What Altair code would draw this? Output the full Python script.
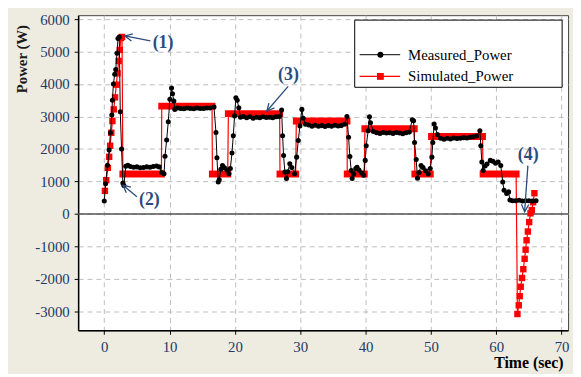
import math
import altair as alt
import pandas as pd

# ---------------- data ----------------
meas_t = [0.0, 0.2, 0.5, 0.75, 0.95, 1.15, 1.25, 1.4, 1.6, 1.76, 1.95, 2.1, 2.3, 2.45, 2.65, 2.85,
          3.0, 3.3, 3.6, 4.0, 4.5, 5.0, 5.5, 6.0, 6.5, 7.0, 7.5, 8.0, 8.4, 8.8, 9.15, 9.3, 9.55,
          9.8, 10.05, 10.3, 10.45, 10.65, 10.8, 11.2, 11.7, 12.2, 12.7, 13.2, 13.7, 14.2, 14.7,
          15.2, 15.7, 16.2, 16.8, 17.1, 17.25, 17.45, 17.6, 17.85, 18.1, 18.4, 18.8, 19.1, 19.3,
          19.55, 19.75, 19.95, 20.15, 20.35, 20.6, 20.85, 21.3, 21.8, 22.3, 22.8, 23.3, 23.8,
          24.3, 24.8, 25.3, 25.8, 26.3, 26.8, 27.15, 27.3, 27.45, 27.65, 27.9, 28.1, 28.4, 28.7,
          29.15, 29.45, 29.7, 29.95, 30.25, 30.45, 30.8, 31.3, 31.8, 32.3, 32.8, 33.3, 33.8,
          34.3, 34.8, 35.3, 35.8, 36.3, 36.8, 37.15, 37.4, 37.6, 37.8, 37.95, 38.2, 38.5, 38.7,
          39.0, 39.4, 39.7, 39.95, 40.1, 40.4, 40.6, 40.75, 41.2, 41.7, 42.2, 42.7, 43.2, 43.7,
          44.2, 44.7, 45.2, 45.7, 46.2, 46.7, 47.15, 47.35, 47.5, 47.75, 47.95, 48.2, 48.5,
          48.8, 49.2, 49.6, 49.9, 50.15, 50.3, 50.5, 50.7, 51.0, 51.5, 52.0, 52.5, 53.0, 53.5,
          54.0, 54.5, 55.0, 55.5, 56.0, 56.5, 57.0, 57.5, 57.65, 57.8, 58.0, 58.3, 58.6, 59.1,
          59.5, 59.9, 60.3, 60.7, 61.0, 61.2, 61.6, 61.9, 62.1, 62.5, 63.0, 63.5, 64.0, 64.5,
          65.0, 65.5, 66.1]
meas_v = [400, 930, 1500, 1970, 2500, 3050, 3500, 4000, 4300, 4450, 4950, 5400, 5450, 3150, 2000, 950,
          880, 1470, 1500, 1460, 1440, 1450, 1420, 1430, 1450, 1440, 1460, 1480, 1450, 1280, 1240, 1780, 2280,
          2840, 3530, 3880, 3700, 3480, 3220, 3260, 3250, 3240, 3260, 3250, 3240, 3260, 3250,
          3250, 3260, 3260, 3290, 2510, 1730, 985, 1050, 1380, 1490, 1420, 1350, 1240, 1400,
          1880, 2410, 3020, 3580, 3500, 3270, 2980, 3000, 2960, 2990, 2950, 2980, 2960,
          2990, 2970, 2980, 2960, 2990, 3000, 3200, 2410, 1800, 1290, 1090, 1300, 1545, 1430,
          1240, 1750, 2260, 2710, 3220, 2950, 2760, 2740, 2700, 2730, 2700, 2720, 2690,
          2720, 2700, 2730, 2710, 2720, 2760, 3000, 2360, 1770, 1340, 1090, 1230, 1400, 1440,
          1350, 1260, 1190, 1650, 2100, 2560, 2990, 2810, 2540, 2500, 2480, 2510, 2490, 2500,
          2480, 2510, 2490, 2470, 2500, 2520, 2900, 2870, 2200, 1680, 1100, 1280, 1490,
          1430, 1330, 1230, 1400, 1750, 2200, 2770, 2650, 2450, 2330, 2300, 2330, 2310, 2340,
          2320, 2330, 2350, 2340, 2360, 2380, 2400, 2560, 2100, 1600, 1340, 1480, 1540, 1650,
          1620, 1560, 1600, 1490, 985, 730, 630, 680, 430, 410, 410, 420, 400, 410,
          410, 400, 405]

sim_ramp_t = [0.1, 0.3, 0.55, 0.75, 0.9, 1.08, 1.25, 1.45, 1.65, 1.85, 2.02, 2.2, 2.38, 2.55, 2.72]
sim_ramp_v = [710, 1040, 1420, 1760, 2100, 2500, 2860, 3220, 3590, 3980, 4330, 4710, 5050, 5420, 5450]

seg_start = [2.85, 8.8, 16.55, 19.0, 26.9, 29.4, 37.2, 39.9, 47.55, 50.1, 58.0]
seg_end = [8.75, 16.5, 18.9, 26.85, 29.3, 37.15, 39.8, 47.45, 49.9, 57.9, 63.05]
seg_val = [1230, 3320, 1230, 3090, 1230, 2860, 1230, 2625, 1230, 2385, 1230]

sim_drop_t = [63.25, 63.45, 63.6, 63.75, 63.95, 64.15, 64.35, 64.5, 64.65, 64.85, 65.05, 65.25, 65.45, 65.65, 65.85]
sim_drop_v = [-3080, -2810, -2530, -2240, -1970, -1700, -1380, -1100, -810, -540, -250, 20, 120, 360, 640]

ann_labels = ["(1)", "(2)", "(3)", "(4)"]
ann_text_t = [9.0, 6.9, 28.2, 64.9]
ann_text_v = [5270, 430, 4270, 1800]
ann_from_t = [7.05, 5.0, 28.15, 64.85]
ann_from_v = [5330, 530, 3930, 1490]
ann_to_t = [3.17, 2.87, 24.9, 64.35]
ann_to_v = [5480, 885, 3170, 70]

x_ticks = [0, 10, 20, 30, 40, 50, 60, 70]
y_ticks = [-3000, -2000, -1000, 0, 1000, 2000, 3000, 4000, 5000, 6000]

# ---------------- layout / style ----------------
W, H = 496, 319
XDOM = [-4, 71]
YDOM = [-3580, 6120]
FONT = "Liberation Serif"
RED = "#FF0000"
ANN = "#2B4C7E"
LABEL = "#1F3A66"

xs = alt.Scale(domain=XDOM, nice=False, zero=False)
ys = alt.Scale(domain=YDOM, nice=False, zero=False)

meas = pd.DataFrame({"t": meas_t, "v": meas_v, "i": range(len(meas_t))})

line_t, line_v = list(sim_ramp_t), list(sim_ramp_v)
for a, b, v in zip(seg_start, seg_end, seg_val):
    line_t += [a, b]
    line_v += [v, v]
line_t += sim_drop_t
line_v += sim_drop_v
sim_line = pd.DataFrame({"t": line_t, "v": line_v, "i": range(len(line_t))})
sim_pts = pd.DataFrame({"t": sim_ramp_t + sim_drop_t, "v": sim_ramp_v + sim_drop_v})
segs = pd.DataFrame({"a": seg_start, "b": seg_end, "v": seg_val})

# arrow-head angles in screen space
sx = W / (XDOM[1] - XDOM[0])
sy = H / (YDOM[1] - YDOM[0])
angles = []
for ft, fv, tt, tv in zip(ann_from_t, ann_from_v, ann_to_t, ann_to_v):
    dx = (tt - ft) * sx
    dy = -(tv - fv) * sy
    angles.append(math.degrees(math.atan2(dx, -dy)) % 360)
ann = pd.DataFrame({"label": ann_labels, "tx": ann_text_t, "tv": ann_text_v,
                    "ft": ann_from_t, "fv": ann_from_v, "et": ann_to_t, "ev": ann_to_v,
                    "ang": angles})

x_axis = alt.Axis(values=x_ticks, labelExpr="'' + datum.value", labelOverlap=False,
                  titleX=491, titleY=33,
                  titleAlign="right", titleBaseline="middle", titleAngle=0,
                  labelPadding=5)
y_axis = alt.Axis(values=y_ticks, labelExpr="'' + datum.value", labelOverlap=False,
                  labelBound=False, titleX=-57, titleY=44,
                  titleAngle=270, titleAlign="center", titleBaseline="middle",
                  labelPadding=5)


def px(f):
    return alt.X(f, scale=xs, title="Time (sec)", axis=x_axis)


def py(f):
    return alt.Y(f, scale=ys, title="Power (W)", axis=y_axis)


base_axes = alt.Chart(meas).mark_point(opacity=0).encode(x=px("t:Q"), y=py("v:Q"))

zero = alt.Chart(pd.DataFrame({"v": [0]})).mark_rule(color="#555555", strokeWidth=1.5).encode(
    y=py("v:Q"))

red_line = alt.Chart(sim_line).mark_line(color=RED, strokeWidth=1.2).encode(
    x=px("t:Q"), y=py("v:Q"), order="i:Q")
red_segs = alt.Chart(segs).mark_rule(color=RED, strokeWidth=7, strokeCap="square").encode(
    x=px("a:Q"), x2="b:Q", y=py("v:Q"))
red_pts = alt.Chart(sim_pts).mark_point(shape="square", filled=True, color=RED, size=42, opacity=1).encode(
    x=px("t:Q"), y=py("v:Q"))

blk_line = alt.Chart(meas).mark_line(color="black", strokeWidth=1).encode(
    x=px("t:Q"), y=py("v:Q"), order="i:Q")
blk_pts = alt.Chart(meas).mark_circle(color="black", size=26, opacity=1).encode(
    x=px("t:Q"), y=py("v:Q"))

arrows = alt.Chart(ann).mark_rule(color=ANN, strokeWidth=1.3).encode(
    x=px("ft:Q"), y=py("fv:Q"), x2="et:Q", y2="ev:Q")
heads = alt.Chart(ann).mark_point(
    shape="M -0.55 1.1 L 0 0 L 0.55 1.1", filled=False, color=ANN, strokeWidth=1.3,
    size=180, opacity=1).encode(
    x=px("et:Q"), y=py("ev:Q"), angle=alt.Angle("ang:Q", scale=None))
ann_txt = alt.Chart(ann).mark_text(font=FONT, fontSize=18, fontWeight="bold", color=ANN,
                                   align="center", baseline="middle").encode(
    x=px("tx:Q"), y=py("tv:Q"), text="label:N")

# legend box (decoration)
one = pd.DataFrame({"k": [0]})
leg_box = alt.Chart(one).mark_rect(fill="white", stroke="black", strokeWidth=1).encode(
    x=alt.value(280), x2=alt.value(490), y=alt.value(5), y2=alt.value(73))
leg_l1 = alt.Chart(one).mark_rule(color="black", strokeWidth=1).encode(
    x=alt.value(285), x2=alt.value(326), y=alt.value(40))
leg_l2 = alt.Chart(one).mark_rule(color=RED, strokeWidth=1.2).encode(
    x=alt.value(285), x2=alt.value(326), y=alt.value(62))
leg_p1 = alt.Chart(one).mark_circle(color="black", size=36, opacity=1).encode(
    x=alt.value(306), y=alt.value(40))
leg_p2 = alt.Chart(one).mark_point(shape="square", filled=True, color=RED, size=48, opacity=1).encode(
    x=alt.value(306), y=alt.value(62))
leg_t1 = alt.Chart(one).mark_text(font=FONT, fontSize=15, color="black", align="left",
                                  baseline="middle", text="Measured_Power").encode(
    x=alt.value(334), y=alt.value(40))
leg_t2 = alt.Chart(one).mark_text(font=FONT, fontSize=15, color="black", align="left",
                                  baseline="middle", text="Simulated_Power").encode(
    x=alt.value(334), y=alt.value(62))

chart = alt.layer(
    base_axes, zero, red_line, red_segs, red_pts, blk_line, blk_pts,
    arrows, heads, ann_txt,
    leg_box, leg_l1, leg_l2, leg_p1, leg_p2, leg_t1, leg_t2,
).properties(
    width=W, height=H,
    autosize=alt.AutoSizeParams(type="none"),
    padding={"left": 71, "top": 5, "right": 5, "bottom": 42},
    background="#EEEBE1",
).configure_view(
    fill="white", stroke="#444444", strokeWidth=1,
).configure_axis(
    grid=True, gridColor="#BDBDBD", gridDash=[5, 4], gridWidth=1,
    domainColor="black", domainWidth=1.5,
    tickColor="black", tickSize=4, tickWidth=1,
    labelFont=FONT, labelFontSize=15, labelColor=LABEL, labelOverlap=False,
    titleFont=FONT, titleFontSize=15, titleFontWeight="bold", titleColor="#1a1a1a",
).configure_axisX(
    titleFontSize=16, titleColor="black",
)

chart.save("out.html", embed_options={"renderer": "svg", "actions": False})
